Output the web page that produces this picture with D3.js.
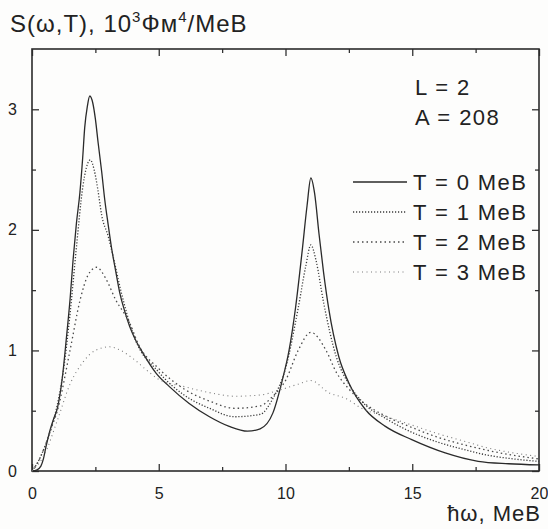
<!DOCTYPE html>
<html>
<head>
<meta charset="utf-8">
<script src="https://cdn.jsdelivr.net/npm/d3@7"></script>
<style>
  html, body { margin: 0; padding: 0; background: #fdfdfc; }
  svg { display: block; font-family: "Liberation Sans", Arial, sans-serif; }
  .tick text { font-size: 16px; fill: #222; }
  .tick line { stroke: #333; stroke-width: 1.3; }
</style>
</head>
<body>
<div class="graph"></div>
<script>
// energy (MeV) and strength values, one pair per temperature
var w0 = [0, 0.2, 0.35, 0.45, 0.55, 0.7, 0.85, 1.0, 1.2, 1.36, 1.5, 1.62, 1.75, 1.89, 2.0, 2.08, 2.18, 2.28, 2.4, 2.5, 2.61, 2.75, 2.87, 3.0, 3.13, 3.3, 3.46, 3.65, 3.85, 4.1, 4.37, 4.9, 5.42, 6.2, 7.0, 7.78, 8.5, 9.0, 9.5, 9.87, 10.14, 10.4, 10.66, 10.85, 11.0, 11.15, 11.32, 11.5, 11.71, 12.1, 12.5, 13.15, 13.94, 14.98, 16.3, 17.6, 18.8, 20]
var s0 = [0, 0.01, 0.04, 0.1, 0.2, 0.33, 0.43, 0.52, 0.78, 1.11, 1.42, 1.75, 2.05, 2.31, 2.6, 2.85, 3.02, 3.11, 3.05, 2.92, 2.72, 2.48, 2.25, 2.05, 1.86, 1.66, 1.48, 1.33, 1.2, 1.08, 0.98, 0.81, 0.7, 0.56, 0.45, 0.37, 0.33, 0.35, 0.48, 0.75, 1.0, 1.36, 1.83, 2.2, 2.43, 2.3, 1.97, 1.65, 1.34, 0.95, 0.73, 0.51, 0.37, 0.26, 0.15, 0.08, 0.06, 0.05]

var w1 = [0, 0.25, 0.5, 0.75, 1.0, 1.25, 1.5, 1.75, 2.0, 2.15, 2.3, 2.45, 2.6, 2.75, 3.0, 3.2, 3.5, 4.0, 5.0, 6.0, 7.0, 8.0, 9.0, 9.5, 10.0, 10.5, 10.8, 11.0, 11.2, 11.5, 12.0, 12.5, 13.0, 14.0, 15.0, 16.0, 17.0, 18.0, 19.0, 20]
var s1 = [0, 0.08, 0.2, 0.35, 0.55, 0.85, 1.3, 1.85, 2.35, 2.52, 2.58, 2.5, 2.33, 2.12, 1.95, 1.78, 1.5, 1.13, 0.82, 0.63, 0.52, 0.45, 0.47, 0.6, 0.85, 1.35, 1.7, 1.875, 1.75, 1.4, 0.95, 0.72, 0.58, 0.43, 0.32, 0.24, 0.18, 0.13, 0.1, 0.08]

var w2 = [0, 0.25, 0.5, 0.75, 1.0, 1.5, 1.9, 2.2, 2.55, 2.9, 3.3, 3.85, 4.2, 5.0, 6.0, 7.0, 8.0, 9.0, 9.5, 10.0, 10.5, 11.0, 11.6, 12.0, 12.5, 13.0, 14.0, 15.0, 16.0, 17.0, 18.0, 19.0, 20]
var s2 = [0, 0.08, 0.2, 0.35, 0.5, 1.0, 1.42, 1.62, 1.69, 1.6, 1.42, 1.23, 1.05, 0.85, 0.68, 0.58, 0.52, 0.54, 0.62, 0.75, 1.0, 1.15, 1.0, 0.82, 0.68, 0.58, 0.45, 0.36, 0.28, 0.22, 0.17, 0.13, 0.1]

var w3 = [0, 0.5, 1.0, 1.5, 2.0, 2.5, 3.06, 3.5, 4.0, 4.5, 5.0, 6.0, 7.0, 8.0, 9.0, 9.74, 10.5, 11.0, 11.7, 12.4, 13.0, 14.0, 15.0, 16.0, 17.0, 18.0, 19.0, 20]
var s3 = [0, 0.14, 0.42, 0.72, 0.9, 1.0, 1.03, 1.0, 0.93, 0.84, 0.76, 0.7, 0.65, 0.62, 0.63, 0.67, 0.72, 0.75, 0.65, 0.6, 0.52, 0.45, 0.38, 0.31, 0.25, 0.19, 0.15, 0.12]

var xMajor = [0, 5, 10, 15, 20]
var xMinor = [2.5, 7.5, 12.5, 17.5]
var yMajor = [0, 1, 2, 3]
var yMinor = [0.5, 1.5, 2.5]

var legendLabels = ["T = 0 MeB", "T = 1 MeB", "T = 2 MeB", "T = 3 MeB"]
var infoLabels = ["L = 2", "A = 208"]

var w = 548
var h = 529
var pLeft = 32, pRight = 539, pTop = 49, pBottom = 471

var svg = d3.select(".graph")
              .append("svg")
              .attr("width", w)
              .attr("height", h)

var x = d3.scaleLinear().domain([0, 20]).range([pLeft, pRight])
var y = d3.scaleLinear().domain([0, 3.5]).range([pBottom, pTop])

// ticks point inwards on all four sides
var addAxis = function(axis, tx, ty, showLabels){
  var g = svg.append("g")
    .attr("transform", "translate(" + tx + "," + ty + ")")
    .call(axis)
  g.select(".domain").remove()
  if(!showLabels){ g.selectAll("text").remove() }
  return g
}

addAxis(d3.axisBottom(x).tickValues(xMajor).tickSize(-7).tickPadding(17).tickFormat(d3.format("d")), 0, pBottom, true)
addAxis(d3.axisBottom(x).tickValues(xMinor).tickSize(-4), 0, pBottom, false)
addAxis(d3.axisTop(x).tickValues(xMajor).tickSize(-7), 0, pTop, false)
addAxis(d3.axisTop(x).tickValues(xMinor).tickSize(-4), 0, pTop, false)
addAxis(d3.axisLeft(y).tickValues(yMajor).tickSize(-7).tickPadding(15).tickFormat(d3.format("d")), pLeft, 0, true)
addAxis(d3.axisLeft(y).tickValues(yMinor).tickSize(-4), pLeft, 0, false)
addAxis(d3.axisRight(y).tickValues(yMajor).tickSize(-7), pRight, 0, false)
addAxis(d3.axisRight(y).tickValues(yMinor).tickSize(-4), pRight, 0, false)

svg.append("rect")
  .attr("x", pLeft)
  .attr("y", pTop)
  .attr("width", pRight - pLeft)
  .attr("height", pBottom - pTop)
  .attr("fill", "none")
  .attr("stroke", "#2b2b2b")
  .attr("stroke-width", 1.6)

var line = d3.line()
  .x(function(d){ return x(d[0]) })
  .y(function(d){ return y(d[1]) })
  .curve(d3.curveMonotoneX)

var series = [
  { w: w0, s: s0, color: "#2a2a2a", width: 1.3, dash: null },
  { w: w1, s: s1, color: "#3a3a3a", width: 1.3, dash: "1.2,1.8" },
  { w: w2, s: s2, color: "#4a4a4a", width: 1.3, dash: "1.5,3" },
  { w: w3, s: s3, color: "#7a7a7a", width: 1.1, dash: "1,3.5" }
]

series.forEach(function(sr){
  var pts = sr.w.map(function(v, i){ return [v, sr.s[i]] })
  svg.append("path")
    .attr("d", line(pts))
    .attr("fill", "none")
    .attr("stroke", sr.color)
    .attr("stroke-width", sr.width)
    .attr("stroke-dasharray", sr.dash)
})

// legend
series.forEach(function(sr, i){
  var by = 190 + i * 30
  svg.append("line")
    .attr("x1", 353).attr("x2", 407)
    .attr("y1", by - 8).attr("y2", by - 8)
    .attr("stroke", sr.color)
    .attr("stroke-width", sr.width)
    .attr("stroke-dasharray", sr.dash)
  svg.append("text")
    .attr("x", 413).attr("y", by)
    .attr("font-size", 22)
    .attr("letter-spacing", 1.4)
    .attr("fill", "#222")
    .text(legendLabels[i])
})

infoLabels.forEach(function(t, i){
  svg.append("text")
    .attr("x", 415).attr("y", 95 + i * 30)
    .attr("font-size", 22)
    .attr("letter-spacing", 1.4)
    .attr("fill", "#222")
    .text(t)
})

// axis titles
var title = svg.append("text")
  .attr("x", 10).attr("y", 32)
  .attr("font-size", 24)
  .attr("letter-spacing", 1)
  .attr("fill", "#222")
title.append("tspan").text("S(\u03c9,T), 10")
title.append("tspan").attr("font-size", 15).attr("dy", -10).text("3")
title.append("tspan").attr("dy", 10).text("\u0424\u043c")
title.append("tspan").attr("font-size", 15).attr("dy", -10).text("4")
title.append("tspan").attr("dy", 10).text("/MeB")

svg.append("text")
  .attr("x", 541).attr("y", 521)
  .attr("text-anchor", "end")
  .attr("font-size", 22)
  .attr("letter-spacing", 1)
  .attr("fill", "#222")
  .text("\u0127\u03c9, MeB")
</script>
</body>
</html>
